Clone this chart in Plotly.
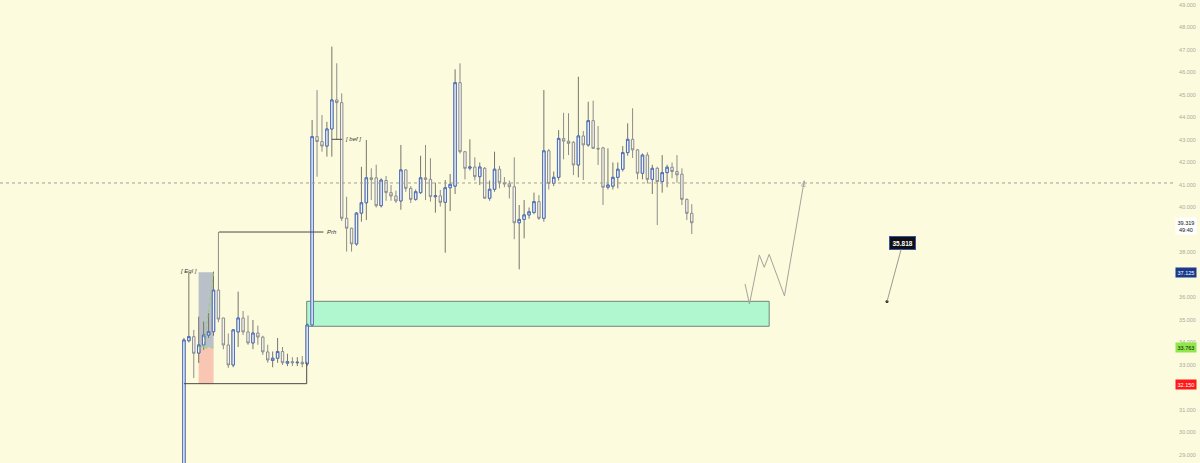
import plotly.graph_objects as go

# ---------------- data ----------------
opens = [27.0, 34.08, 34.26, 33.53, 33.89, 34.33, 34.48, 36.33, 35.09, 33.89,
         33.0, 34.47, 35.09, 34.47, 33.98, 34.42, 34.24, 33.58, 33.2, 33.3,
         33.6, 33.08, 33.15, 33.1, 33.12, 33.05, 34.78, 43.15, 42.93, 42.73,
         43.49, 44.78, 44.66, 39.52, 39.08, 38.38, 39.75, 40.21, 41.32, 41.32,
         40.08, 41.2, 40.66, 40.51, 40.29, 41.67, 40.85, 40.36, 40.66, 41.32,
         41.25, 40.48, 40.52, 40.23, 40.88, 40.95, 45.55, 42.48, 41.75, 41.8,
         41.37, 41.74, 40.41, 40.81, 41.7, 41.1, 41.05, 40.92, 39.32, 39.47,
         39.67, 39.78, 40.26, 39.52, 42.52, 41.07, 41.34, 43.07, 42.95, 42.9,
         41.89, 43.18, 42.78, 43.86, 42.63, 42.65, 40.9, 40.95, 41.34, 41.7,
         42.44, 43.03, 42.56, 41.52, 42.33, 41.25, 41.74, 41.15, 41.55, 41.79,
         41.6, 41.48, 40.36, 39.74]
highs = [34.2, 37.09, 34.56, 35.15, 34.93, 35.3, 37.15, 38.91, 35.1, 34.4,
         34.6, 36.26, 35.4, 35.2, 35.0, 34.75, 34.3, 33.9, 33.6, 34.2,
         33.8, 33.5, 33.35, 33.35, 33.4, 34.85, 43.89, 45.22, 44.11, 43.81,
         47.15, 46.41, 45.07, 40.48, 39.1, 39.8, 41.81, 43.0, 41.74, 41.9,
         41.3, 41.4, 41.0, 40.75, 42.78, 41.7, 40.95, 40.8, 42.3, 42.78,
         42.19, 41.1, 40.78, 41.22, 41.49, 46.14, 46.41, 42.5, 43.03, 42.23,
         42.0, 41.8, 41.2, 42.48, 41.85, 41.35, 41.2, 42.23, 40.11, 40.33,
         40.0, 40.66, 40.55, 45.22, 42.6, 41.6, 43.44, 44.21, 44.19, 42.95,
         45.81, 43.4, 44.7, 44.75, 43.62, 42.7, 42.63, 42.0, 42.0, 42.73,
         43.74, 44.41, 42.6, 42.4, 42.45, 41.9, 41.81, 42.33, 41.9, 42.0,
         42.33, 41.74, 40.4, 40.15]
lows = [26.5, 34.0, 32.42, 33.09, 33.67, 34.2, 34.3, 34.9, 33.7, 32.87,
        32.9, 33.8, 34.33, 33.9, 33.7, 33.9, 33.45, 33.1, 32.9, 33.1,
        33.0, 32.95, 32.95, 32.95, 32.9, 32.95, 34.7, 41.37, 42.48, 42.26,
        42.26, 43.0, 39.4, 38.04, 38.04, 38.3, 39.37, 39.44, 40.33, 40.0,
        40.0, 40.3, 40.3, 40.2, 39.9, 40.7, 40.2, 40.3, 40.6, 40.33,
        40.26, 39.77, 40.04, 37.99, 39.84, 40.6, 42.4, 41.25, 41.65, 41.2,
        41.0, 40.4, 40.3, 40.7, 40.85, 40.9, 40.4, 38.59, 37.25, 38.63,
        39.5, 39.7, 39.45, 39.37, 40.8, 40.95, 41.2, 42.14, 42.33, 41.44,
        41.34, 41.22, 42.7, 42.6, 41.89, 40.11, 40.8, 40.8, 40.85, 41.6,
        42.3, 42.2, 41.25, 41.25, 41.07, 40.6, 39.22, 40.66, 40.9, 41.3,
        41.1, 40.11, 39.44, 38.82]
closes = [34.11, 34.26, 33.52, 33.89, 34.33, 34.48, 36.33, 35.04, 33.89, 33.0,
          34.56, 35.09, 34.47, 33.98, 34.42, 34.24, 33.58, 33.22, 33.3, 33.6,
          33.1, 33.15, 33.1, 33.12, 33.05, 34.78, 43.15, 42.93, 42.73, 43.49,
          44.78, 44.66, 39.52, 39.08, 38.38, 39.75, 40.21, 41.32, 41.25, 40.08,
          41.22, 40.66, 40.51, 40.29, 41.67, 40.85, 40.36, 40.7, 41.32, 41.25,
          40.48, 40.52, 40.23, 40.88, 41.03, 45.55, 42.48, 41.74, 41.8, 41.37,
          41.8, 40.41, 40.81, 41.7, 41.1, 41.05, 40.92, 39.32, 39.47, 39.67,
          39.81, 40.26, 39.52, 42.52, 41.07, 41.34, 43.07, 42.95, 42.85, 41.89,
          43.18, 42.78, 43.86, 42.63, 42.6, 40.9, 41.0, 41.34, 41.7, 42.44,
          43.03, 42.56, 41.52, 42.33, 41.25, 41.74, 41.15, 41.55, 41.79, 41.6,
          41.45, 40.36, 39.74, 39.319]
bars = list(range(len(closes)))

price_ticks = list(range(29, 50))

# drawn levels / tools
target_level = 37.125
entry_level = 33.763
stop_level = 32.150
last_price = 39.319
last_time = "49:40"
hline_level = 41.09
prh_level = 38.91
bef_level = 43.03
low_line_level = 32.17
zone_low, zone_high = 34.72, 35.83
note_price = 35.818
path_x = [113.8, 114.7, 116.7, 117.7, 118.7, 121.8, 125.8]
path_y = [36.6, 35.71, 37.89, 37.34, 37.92, 36.07, 41.19]

# ---------------- figure ----------------
BG = "#fdfbdd"
WICK = "#75756c"
UPC = "#4a6ec5"
DNC = "#8c8c8c"
BODY = "#f3f3f1"

fig = go.Figure()

# all candles (gray wicks / borders)
fig.add_trace(go.Candlestick(
    x=bars, open=opens, high=highs, low=lows, close=closes,
    increasing=dict(line=dict(color=WICK, width=1), fillcolor=BODY),
    decreasing=dict(line=dict(color=DNC, width=1), fillcolor=BODY),
    whiskerwidth=0, showlegend=False, hoverinfo="skip"))

# blue borders for up candle bodies
up_idx = [i for i in bars if closes[i] >= opens[i]]
fig.add_trace(go.Candlestick(
    x=up_idx,
    open=[opens[i] for i in up_idx], close=[closes[i] for i in up_idx],
    high=[closes[i] for i in up_idx], low=[opens[i] for i in up_idx],
    increasing=dict(line=dict(color=UPC, width=1), fillcolor=BODY),
    decreasing=dict(line=dict(color=UPC, width=1), fillcolor=BODY),
    whiskerwidth=0, showlegend=False, hoverinfo="skip"))

shapes = []
# position tool boxes
shapes.append(dict(type="rect", xref="x", yref="y", x0=2.98, x1=6.02,
                   y0=entry_level, y1=target_level, fillcolor="#b9c0c8",
                   line=dict(width=0), layer="below"))
shapes.append(dict(type="rect", xref="x", yref="y", x0=2.98, x1=6.02,
                   y0=stop_level, y1=entry_level, fillcolor="#f8c6b2",
                   line=dict(width=0), layer="below"))
shapes.append(dict(type="line", xref="x", yref="y", x0=2.98, x1=6.02,
                   y0=entry_level, y1=entry_level,
                   line=dict(color="#8fd65a", width=1, dash="dot")))
shapes.append(dict(type="line", xref="x", yref="y", x0=4.0, x1=6.02,
                   y0=entry_level, y1=target_level,
                   line=dict(color="#8fd65a", width=1, dash="dot")))
# demand zone
shapes.append(dict(type="rect", xref="x", yref="y", x0=24.9, x1=118.7,
                   y0=zone_low, y1=zone_high, fillcolor="#b0f6cf",
                   line=dict(color="#6f8878", width=1), layer="below"))
# horizontal dotted level
shapes.append(dict(type="line", xref="paper", yref="y", x0=0, x1=1,
                   y0=hline_level, y1=hline_level,
                   line=dict(color="#a0a09a", width=1, dash="dot")))
# low bracket line
shapes.append(dict(type="path", xref="x", yref="y",
                   path=f"M 0,{low_line_level} L 24.9,{low_line_level} L 24.9,33.13",
                   line=dict(color="#4a4a4a", width=1)))
# Prh line
shapes.append(dict(type="line", xref="x", yref="y", x0=7.1, x1=28.3,
                   y0=prh_level, y1=prh_level, line=dict(color="#4a4a4a", width=1)))
# bef line
shapes.append(dict(type="line", xref="x", yref="y", x0=30.0, x1=32.1,
                   y0=bef_level, y1=bef_level, line=dict(color="#4a4a4a", width=1)))

# projection path
fig.add_trace(go.Scatter(
    x=path_x, y=path_y, mode="lines+markers",
    line=dict(color="#a3a39c", width=1),
    marker=dict(symbol=["circle"] * (len(path_x) - 1) + ["arrow-open"],
                size=[0] * (len(path_x) - 1) + [6],
                angleref="previous", color="#a3a39c",
                line=dict(color="#a3a39c", width=1)),
    showlegend=False, hoverinfo="skip"))

# note point
fig.add_trace(go.Scatter(x=[142.6], y=[note_price], mode="markers",
                         marker=dict(color="#222", size=3),
                         showlegend=False, hoverinfo="skip"))

ann = []
ann.append(dict(x=142.6, y=note_price, xref="x", yref="y",
                ax=145.8, ay=38.42, axref="x", ayref="y",
                text="<b>35.818</b>", showarrow=True, arrowhead=0,
                arrowcolor="#9a9a92", arrowwidth=1,
                bgcolor="#111111", bordercolor="#3556a8", borderwidth=1,
                borderpad=2.5, font=dict(family="Liberation Sans", size=6.5, color="white")))
ann.append(dict(x=1.0, y=37.18, xref="x", yref="y", text="<i>[ Eql ]</i>",
                showarrow=False, font=dict(family="Liberation Sans", size=6, color="#333")))
ann.append(dict(x=28.6, y=prh_level, xref="x", yref="y", text="<i>Prh</i>",
                xanchor="left", showarrow=False,
                font=dict(family="Liberation Sans", size=6, color="#333")))
ann.append(dict(x=32.3, y=bef_level, xref="x", yref="y", text="<i>[ bef ]</i>",
                xanchor="left", showarrow=False,
                font=dict(family="Liberation Sans", size=6, color="#333")))

# right-axis price labels
def axis_label(y, text, bg, fg, yshift=0):
    ann.append(dict(x=1, y=y, xref="paper", yref="y", xanchor="left", xshift=2,
                    yshift=yshift, text=text, showarrow=False, bgcolor=bg,
                    borderpad=1.5, font=dict(family="Liberation Sans", size=5.5, color=fg)))

axis_label(last_price, f"{last_price:.3f}<br>{last_time}", "#ffffff", "#111", yshift=-3)
axis_label(target_level, f"{target_level:.3f}", "#1b3a8c", "#ffffff")
axis_label(entry_level, f"{entry_level:.3f}", "#8fe84a", "#111")
axis_label(stop_level, f"{stop_level:.3f}", "#ff1a1a", "#ffffff")

fig.update_layout(
    width=1200, height=463,
    margin=dict(l=0, r=27, t=0, b=0),
    paper_bgcolor=BG, plot_bgcolor=BG,
    shapes=shapes, annotations=ann,
    showlegend=False,
    xaxis=dict(range=[-37.3, 200.6], visible=False, rangeslider=dict(visible=False),
               showgrid=False, zeroline=False),
    yaxis=dict(side="right", range=[28.644, 49.222], tickvals=price_ticks,
               tickformat=".3f", showgrid=False, zeroline=False,
               ticks="outside", ticklen=4, tickcolor="rgba(0,0,0,0)",
               tickfont=dict(family="Liberation Sans", size=5.5, color="#aaa9a0"),
               showline=False),
)

fig.write_html(
    "out.html",
    config={"displayModeBar": False},
    post_script="document.body.style.margin='0';document.body.style.overflow='hidden';"
                "document.body.style.background='" + BG + "';",
)
